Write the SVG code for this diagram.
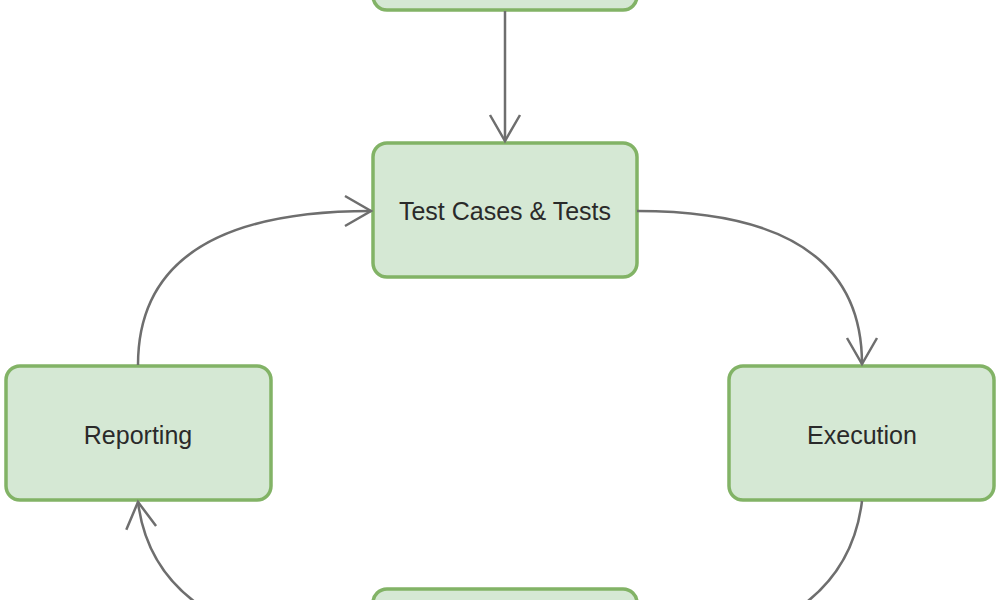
<svg xmlns="http://www.w3.org/2000/svg" width="1000" height="600" viewBox="0 0 1000 600">
  <defs>
    <style>
      .node { fill: #d5e8d4; stroke: #82b366; stroke-width: 3.5; }
      .label { font-family: "Liberation Sans", Arial, sans-serif; font-size: 25px; fill: #2a2a2a; text-anchor: middle; }
      .edge { fill: none; stroke: #6e6e6e; stroke-width: 2.5; }
    </style>
    <marker id="open" markerUnits="userSpaceOnUse" markerWidth="40" markerHeight="40" viewBox="-30 -20 34 40" refX="0" refY="0" orient="auto">
      <path d="M-26,-15 L0,0 L-26,15" fill="none" stroke="#6e6e6e" stroke-width="2.5"/>
    </marker>
  </defs>
  <rect width="1000" height="600" fill="#ffffff"/>

  <g id="node-top">
    <rect class="node" x="373" y="-125" width="264" height="135" rx="14"/>
  </g>
  <g id="node-testcases">
    <rect class="node" x="373" y="143" width="264" height="134" rx="14"/>
    <text class="label" x="505" y="220">Test Cases &amp; Tests</text>
  </g>
  <g id="node-reporting">
    <rect class="node" x="6" y="366" width="265" height="134" rx="14"/>
    <text class="label" x="138" y="444">Reporting</text>
  </g>
  <g id="node-execution">
    <rect class="node" x="729" y="366" width="265" height="134" rx="14"/>
    <text class="label" x="862" y="444">Execution</text>
  </g>
  <g id="node-bottom">
    <rect class="node" x="373" y="589" width="264" height="134" rx="14"/>
  </g>

  <g id="connectors">
    <path class="edge" d="M505,11 L505,141" marker-end="url(#open)"/>
    <path class="edge" d="M637,211 Q862,211 862,364" marker-end="url(#open)"/>
    <path class="edge" d="M862,501 Q845,640 637,655"/>
    <path class="edge" d="M373,655 Q155,640 138,502" marker-end="url(#open)"/>
    <path class="edge" d="M138,365 Q138,211 371,211" marker-end="url(#open)"/>
  </g>
</svg>
